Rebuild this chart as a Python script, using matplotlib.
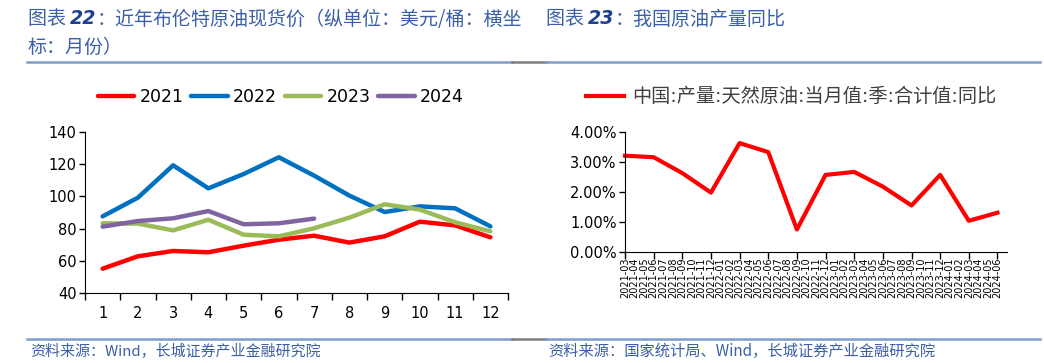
import numpy as np
import matplotlib
matplotlib.use("Agg")
import matplotlib.pyplot as plt
from matplotlib.lines import Line2D

plt.rcParams['font.family'] = ['DejaVu Sans', 'Noto Sans CJK SC']

# ---- data: Brent spot price by month (USD/bbl)
months = [str(m) for m in range(1, 13)]
brent = {
    "2021": [55.1, 62.8, 66.1, 65.3, 69.4, 73.1, 75.6, 71.3, 75.2, 84.3, 82.0, 74.6],
    "2022": [87.6, 99.2, 119.3, 105.0, 113.9, 124.3, 112.9, 100.5, 90.3, 93.8, 92.6, 81.4],
    "2023": [83.3, 83.1, 78.9, 85.5, 76.2, 75.2, 80.2, 86.8, 95.1, 91.8, 83.9, 78.3],
    "2024": [81.2, 84.7, 86.4, 90.9, 82.7, 83.3, 86.2],
}
brent_colors = {"2021": "#FF0000", "2022": "#0070C0", "2023": "#9BBB59", "2024": "#8064A2"}

# ---- data: China crude output yoy (quarterly, %)
month_labels = []
for y in range(2021, 2025):
    for m in range(1, 13):
        lab = f"{y}-{m:02d}"
        if "2021-03" <= lab <= "2024-06":
            month_labels.append(lab)
quarter_labels = ["2021-03", "2021-06", "2021-09", "2021-12", "2022-03", "2022-06", "2022-09",
                  "2022-12", "2023-03", "2023-06", "2023-09", "2023-12", "2024-03", "2024-06"]
output_yoy = [3.21, 3.16, 2.63, 1.98, 3.63, 3.33, 0.75, 2.57, 2.67, 2.18, 1.55, 2.57, 1.04, 1.31]

W, H = 1044, 363
fig = plt.figure(figsize=(W / 100, H / 100), dpi=100)


def fx(px):
    return px / W


def fy(py):
    return 1 - py / H


title_col = "#3b5fa8"
num_col = "#1f3f8f"


def seq_text(x, y, pieces):
    """draw text pieces one after another on one line (pixel coords)"""
    r = fig.canvas.get_renderer()
    cx = fx(x)
    for s, kw in pieces:
        t = fig.text(cx, fy(y), s, va="center", ha="left", **kw)
        bb = t.get_window_extent(renderer=r)
        cx += bb.width / W


cjk = ['Noto Sans CJK SC', 'DejaVu Sans']
tkw = dict(fontsize=13.7, color=title_col, family=cjk)
nkw = dict(fontsize=13.7, color=num_col, family=['DejaVu Sans'], fontweight="bold", fontstyle="italic")

seq_text(28, 19, [("图表 ", tkw), ("22", nkw), ("：近年布伦特原油现货价（纵单位：美元/桶：横坐", tkw)])
fig.text(fx(28), fy(47), "标：月份）", va="center", ha="left", **tkw)
seq_text(546, 19, [("图表 ", tkw), ("23", nkw), ("：我国原油产量同比", tkw)])

# separator lines
for yy in (62, 339):
    fig.add_artist(Line2D([fx(27), fx(512)], [fy(yy)] * 2, color="#7f9ccb", lw=1.8))
    fig.add_artist(Line2D([fx(512), fx(546)], [fy(yy)] * 2, color="#7f7f7f", lw=1.8))
    fig.add_artist(Line2D([fx(546), fx(1040)], [fy(yy)] * 2, color="#7f9ccb", lw=1.8))

skw = dict(color=title_col, family=cjk, va="center", ha="left")
fig.text(fx(30), fy(351), "资料来源：Wind，长城证券产业金融研究院", fontsize=10.8, **skw)
fig.text(fx(548), fy(351), "资料来源：国家统计局、Wind，长城证券产业金融研究院", fontsize=11, **skw)

# ---- left chart
ax1 = fig.add_axes([fx(85), fy(293), fx(508 - 85), (293 - 132) / H])
for yr, vals in brent.items():
    ax1.plot(range(len(vals)), vals, color=brent_colors[yr], lw=3.2, label=yr,
             solid_capstyle="round")
ax1.set_xlim(-0.5, 11.5)
ax1.set_ylim(40, 140)
ax1.set_yticks(range(40, 141, 20))
ax1.set_xticks(np.arange(-0.5, 12, 1))
ax1.set_xticklabels([])
ax1.set_xticks(range(12), minor=True)
ax1.set_xticklabels(months, minor=True)
ax1.tick_params(axis="x", which="minor", length=0, pad=9, labelsize=10.5)
ax1.tick_params(axis="x", which="major", length=5, width=1)
ax1.tick_params(axis="y", length=4, width=1, labelsize=10.5, pad=2)
for s in ("top", "right"):
    ax1.spines[s].set_visible(False)
ax1.legend(loc="center", bbox_to_anchor=(fx(281), fy(97)), bbox_transform=fig.transFigure,
           ncol=4, frameon=False, fontsize=12.5, handlelength=2.1, handletextpad=0.3,
           columnspacing=0.45)

# ---- right chart
ax2 = fig.add_axes([fx(625), fy(252), fx(1007 - 625), (252 - 132) / H])
xq = [month_labels.index(q) for q in quarter_labels]
ax2.plot(xq, output_yoy, color="#FF0000", lw=3, label="中国:产量:天然原油:当月值:季:合计值:同比",
         clip_on=False)
ax2.set_xlim(0, 40)
ax2.set_ylim(0, 4)
ax2.set_yticks(range(5))
ax2.set_yticklabels([f"{v:.2f}%" for v in range(5)])
ax2.xaxis.remove_overlapping_locs = False
ax2.set_xticks(range(len(month_labels)))
ax2.set_xticklabels(month_labels, rotation=90, fontsize=7)
ax2.set_xticks(xq, minor=True)
ax2.tick_params(axis="x", which="major", length=0, pad=4)
ax2.tick_params(axis="x", which="minor", length=5, width=1)
ax2.tick_params(axis="y", length=4, width=1, labelsize=10.5, pad=2)
for s in ("top", "right"):
    ax2.spines[s].set_visible(False)
leg = ax2.legend(loc="center", bbox_to_anchor=(fx(791), fy(97)), bbox_transform=fig.transFigure,
                 frameon=False, fontsize=13.8, handlelength=2.0, handletextpad=0.4)
for t in leg.get_texts():
    t.set_color("#404040")

fig.savefig("out.png", dpi=100)
